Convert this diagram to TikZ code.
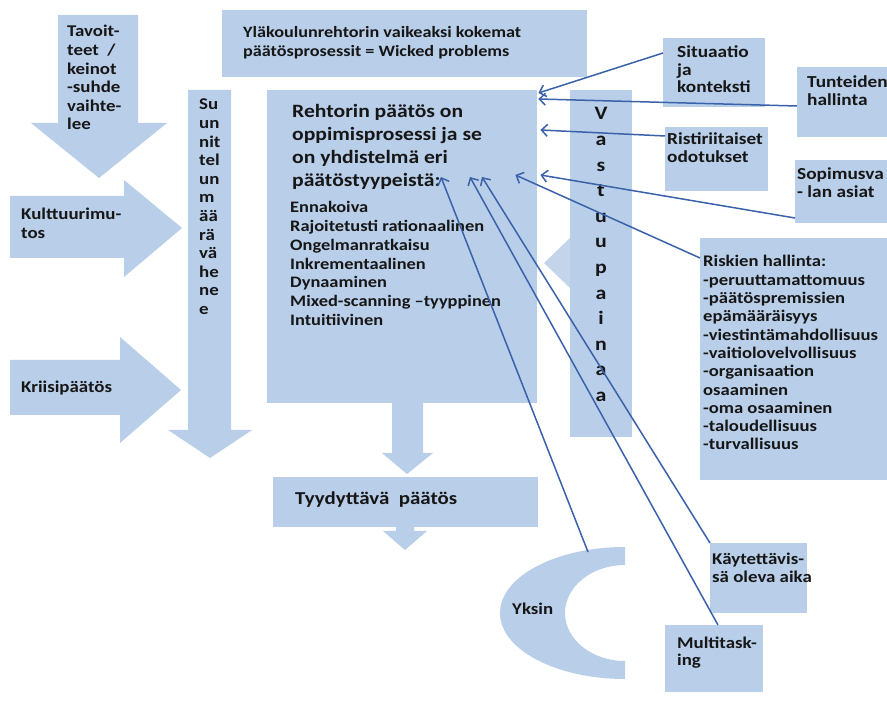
\documentclass[tikz,border=0pt]{standalone}
\usepackage{fontspec}
\setmainfont{Carlito}[FakeStretch=1.15]
\usetikzlibrary{arrows.meta,calc}
\definecolor{boxblue}{RGB}{185,206,232}
\definecolor{linkblue}{RGB}{58,98,170}
\definecolor{ink}{RGB}{22,22,22}
\newcommand{\fs}[2]{\fontsize{#1}{#2}\selectfont}
\newcommand{\stack}[1]{\begin{tabular}[t]{@{}l@{}}#1\end{tabular}}
\newcommand{\cstack}[1]{\begin{tabular}[t]{@{}c@{}}#1\end{tabular}}
\tikzset{
  box/.style={fill=boxblue, draw=none, inner sep=0pt, anchor=north west},
  txt/.style={anchor=base west, inner sep=0pt, text=ink, font=\bfseries\fs{16.4}{18.6}},
  link/.style={draw=linkblue, line width=1.5pt, -{Straight Barb[length=6pt,width=12pt]}},
}
\begin{document}
\begin{tikzpicture}[x=1pt,y=-1pt]
\fill[white] (0,0) rectangle (887,708);
\useasboundingbox (0,0) rectangle (887,708);

% block arrows on the left
\fill[boxblue] (58,15) -- (138,15) -- (138,123) -- (167,123) -- (99,178) -- (31,123) -- (58,123) -- cycle;
\fill[boxblue] (10,196) -- (124,196) -- (124,180) -- (182,228) -- (124,277) -- (124,258) -- (10,258) -- cycle;
\fill[boxblue] (10,360) -- (120,360) -- (120,337) -- (181,390) -- (120,443) -- (120,415) -- (10,415) -- cycle;
\fill[boxblue] (188,90) -- (231,90) -- (231,430) -- (252,430) -- (210,458) -- (168,430) -- (188,430) -- cycle;

% boxes
\node[box, minimum width=365pt, minimum height=67pt] (top) at (222,10) {};
\node[box, minimum width=270pt, minimum height=313pt] (main) at (267,90) {};
\node[box, minimum width=265pt, minimum height=50pt] (tyy) at (273,477) {};
\node[box, minimum width=62pt, minimum height=347pt] (vast) at (570,90) {};
\node[box, minimum width=102pt, minimum height=69pt] (sit) at (663,38) {};
\node[box, minimum width=90pt, minimum height=70pt] (tun) at (797,67) {};
\node[box, minimum width=103pt, minimum height=64pt] (ris) at (665,127) {};
\node[box, minimum width=92pt, minimum height=63pt] (sop) at (795,160) {};
\node[box, minimum width=187pt, minimum height=242pt] (risk) at (700,238) {};
\node[box, minimum width=97pt, minimum height=70pt] (kay) at (710,543) {};
\node[box, minimum width=98pt, minimum height=67pt] (mul) at (665,625) {};

% arrows below the main box and the result box
\fill[boxblue] (392,400) -- (423,400) -- (423,453) -- (433,453) -- (407,474) -- (382,453) -- (392,453) -- cycle;
\fill[boxblue] (396,525) -- (414,525) -- (414,531) -- (427,531) -- (405,550) -- (383,531) -- (396,531) -- cycle;

% pointer from the responsibility bar
\fill[boxblue!85] (570,238) -- (570,288) -- (544,263) -- cycle;

% crescent
\fill[boxblue] (625,547) arc[start angle=270,end angle=90,x radius=125,y radius=66]
  -- (625,661) arc[start angle=90,end angle=270,x radius=60,y radius=48] -- cycle;
\coordinate (moontip) at (588,552);

% texts
\node[txt] (tavt) at (67,37) {\stack{Tavoit-\\teet~~/\\keinot\\-suhde\\vaihte-\\lee}};
\node[txt, font=\bfseries\fs{15.8}{19}] (topt) at (243,38) {\stack{Yläkoulunrehtorin vaikeaksi kokemat\\päätösprosessit = Wicked problems}};
\node[txt] (suut) at (199,110) {\stack{Su\\un\\nit\\tel\\un\\m\\ää\\rä\\vä\\he\\ne\\e}};
\node[txt] (kult) at (21,220) {\stack{Kulttuurimu-\\tos}};
\node[txt] (krit) at (21,393) {\stack{Kriisipäätös}};
\node[txt, font=\bfseries\fs{18.8}{23}] (maint) at (292,118) {\stack{Rehtorin päätös on\\oppimisprosessi ja se\\on yhdistelmä eri\\päätöstyypeistä:}};
\node[txt, font=\bfseries\fs{16}{18.7}] (mainl) at (290,213) {\stack{Ennakoiva\\Rajoitetusti rationaalinen\\Ongelmanratkaisu\\Inkrementaalinen\\Dynaaminen\\Mixed-scanning \textendash tyyppinen\\Intuitiivinen}};
\node[txt, font=\bfseries\fs{18.2}{20}] (tyyt) at (295,505) {Tyydyttävä~ päätös};
\node[txt, anchor=base, font=\bfseries\fs{19}{25.6}] (vastt) at (601,120) {\cstack{V\\a\\s\\t\\u\\u\\p\\a\\i\\n\\a\\a}};
\node[txt, font=\bfseries\fs{16.8}{17.5}] (sitt) at (677,58) {\stack{Situaatio\\ja\\konteksti}};
\node[txt, font=\bfseries\fs{16.8}{17.5}] (tunt) at (807,88) {\stack{Tunteiden\\hallinta}};
\node[txt, font=\bfseries\fs{16.8}{18}] (rist) at (667,145) {\stack{Ristiriitaiset\\odotukset}};
\node[txt, font=\bfseries\fs{16.8}{17.5}] (sopt) at (797,180) {\stack{Sopimusva\\- lan asiat}};
\node[txt, font=\bfseries\fs{16.2}{18.3}] (riskt) at (703,267) {\stack{Riskien hallinta:\\-peruuttamattomuus\\-päätöspremissien\\epämääräisyys\\-viestintämahdollisuus\\-vaitiolovelvollisuus\\-organisaation\\osaaminen\\-oma osaaminen\\-taloudellisuus\\-turvallisuus}};
\node[txt, font=\bfseries\fs{16.4}{17.5}] (kayt) at (712,565) {\stack{Käytettävis-\\sä oleva aika}};
\node[txt, font=\bfseries\fs{16.4}{17.5}] (mult) at (677,648) {\stack{Multitask-\\ing}};
\node[txt] (yks) at (512,615) {Yksin};

% connectors into the main box
\draw[link] ($(sit.north west)+(0,15)$) -- ($(main.north east)+(1,3)$);
\draw[link] ($(tun.north west)+(0,39)$) -- ($(main.north east)+(1,9)$);
\draw[link] ($(ris.north west)+(0,9)$) -- ($(main.north east)+(3,40)$);
\draw[link] ($(sop.north west)+(0,58)$) -- ($(main.north east)+(3,85)$);
\draw[link] ($(risk.north west)+(0,20)$) -- ($(main.north east)+(-22,85)$);
\draw[link] (moontip) -- ($(main.north west)+(174,87)$);
\draw[link] ($(mul.north west)+(53,0)$) -- ($(main.north west)+(203,87)$);
\draw[link] (kay.north west) -- ($(main.north west)+(215,87)$);
\end{tikzpicture}
\end{document}
